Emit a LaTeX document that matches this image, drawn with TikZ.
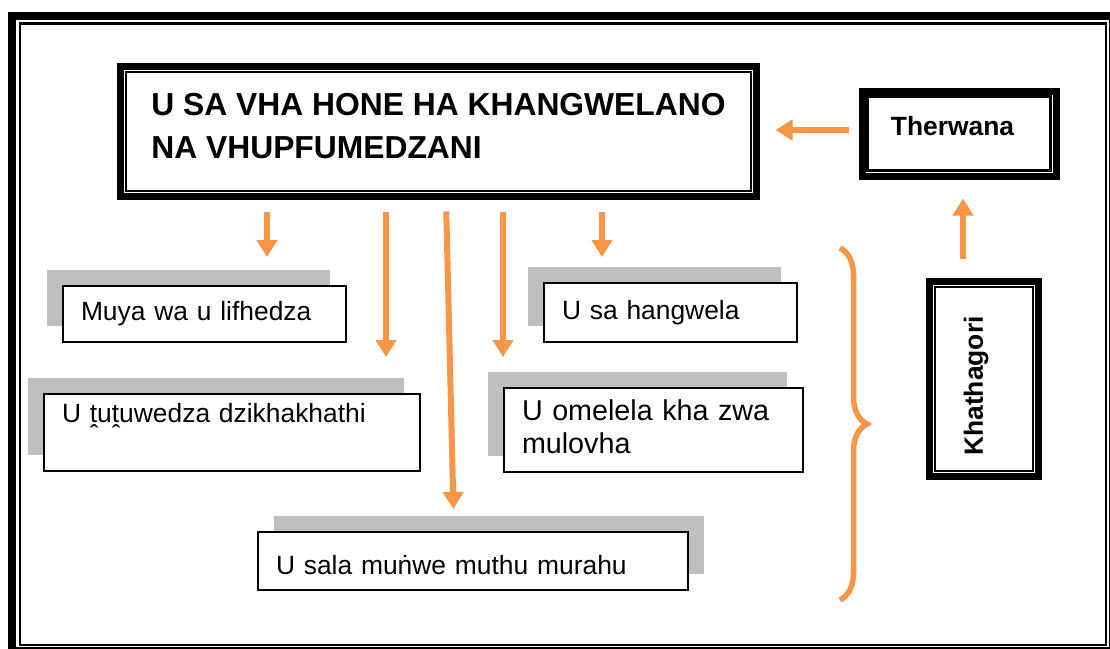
\documentclass[tikz,border=0pt]{standalone}
\usepackage{fontspec}
\setmainfont{Liberation Sans}
\usetikzlibrary{arrows.meta,calc,positioning,shadows,decorations.pathreplacing}
\definecolor{orangeflec}{HTML}{F79646}
\definecolor{grisombre}{HTML}{BFBFBF}
\newcommand{\ftexte}{\fontsize{26.4}{33}\selectfont}

\begin{document}
\begin{tikzpicture}[x=1pt,y=-1pt,
    fleche/.style={-{Triangle[width=20pt,length=17pt]}, line width=6pt, orangeflec},
    boite/.style={draw, line width=2pt, fill=white, align=left, inner xsep=18pt, font=\ftexte},
    ombre/.style={general shadow={fill=grisombre, shadow xshift=#1, shadow yshift=16pt}},
    ombre/.default=-16pt,
    cadregras/.style={draw, line width=7pt, fill=white, font=\ftexte\bfseries}]
  \useasboundingbox (0,0) rectangle (1110,648);

  % Cadre
  \draw[line width=8pt] (12,16) rectangle (1113,651);
  \draw[line width=2.5pt] (20,23.5) rectangle (1106,645);

  % Titre et encadres
  \node[cadregras, align=left, minimum width=636pt, minimum height=130pt,
        font=\fontsize{31.8}{43}\selectfont\bfseries] (titre) at (438.5,131.5)
        {\strut U SA VHA HONE HA KHANGWELANO\\\rule[-19pt]{0pt}{49pt}NA VHUPFUMEDZANI};
  \node[cadregras, minimum width=194pt, minimum height=85pt, text depth=16pt] (ther) at (959,133.5)
        {Therwana\hspace*{13pt}};
  \node[cadregras, minimum width=109pt, minimum height=195pt] (kath) at (984,379)
        {\rotatebox{90}{\hspace*{-14pt}Khathagori}\hspace*{16pt}};
  \foreach \n in {titre,ther,kath}
    \draw[line width=2.5pt] ([shift={(9,9)}]\n.north west) rectangle ([shift={(-9,-9)}]\n.south east);

  % Boites
  \node[boite, ombre, text width=247pt, minimum height=56pt] (muya) at (204.5,314)
        {\strut Muya wa u lifhedza};
  \node[boite, ombre, text width=340pt, minimum height=77pt] (tutu) at (232,432.5)
        {\strut U ṱuṱuwedza dzikhakhathi\\\strut};
  \node[boite, ombre=16pt, text width=394pt, minimum height=58pt] (sala) at (473,561)
        {\rule[-4pt]{0pt}{34pt}U sala muṅwe muthu murahu};
  \node[boite, ombre, text width=217pt, minimum height=59pt] (hangw) at (670.5,312.5)
        {\strut U sa hangwela};
  \node[boite, ombre, text width=263pt, minimum height=84pt,
        font=\fontsize{28.7}{33}\selectfont] (omel) at (653.5,430)
        {\strut U omelela kha zwa\\\strut mulovha};

  % Fleches
  \coordinate (c1) at (267,0);
  \coordinate (c2) at (386,0);
  \coordinate (c3) at (446,0);
  \coordinate (c3b) at (454,0);
  \coordinate (c4) at (503,0);
  \coordinate (c5) at (602,0);
  \coordinate (c6) at (963,0);
  \coordinate (c7) at (0,130);
  \draw[fleche, shorten <=11.5pt, shorten >=28pt] (c1 |- titre.south) -- (c1 |- muya.north);
  \draw[fleche, shorten <=11.5pt, shorten >=36pt] (c2 |- titre.south) -- (c2 |- tutu.north);
  \draw[fleche, shorten <=11.5pt, shorten >=22pt] (c3 |- titre.south) -- (c3b |- sala.north);
  \draw[fleche, shorten <=11.5pt, shorten >=30pt] (c4 |- titre.south) -- (c4 |- omel.north);
  \draw[fleche, shorten <=11.5pt, shorten >=25pt] (c5 |- titre.south) -- (c5 |- hangw.north);
  \draw[fleche, shorten <=10pt, shorten >=15.5pt] (c7 -| ther.west) -- (c7 -| titre.east);
  \draw[fleche, shorten <=19.5pt, shorten >=19pt] (c6 |- kath.north) -- (c6 |- ther.south);

  % Accolade
  \draw[orangeflec, line width=5.5pt, decorate, decoration={brace, amplitude=27pt}]
    (840,248) -- (840,600);
\end{tikzpicture}
\end{document}
